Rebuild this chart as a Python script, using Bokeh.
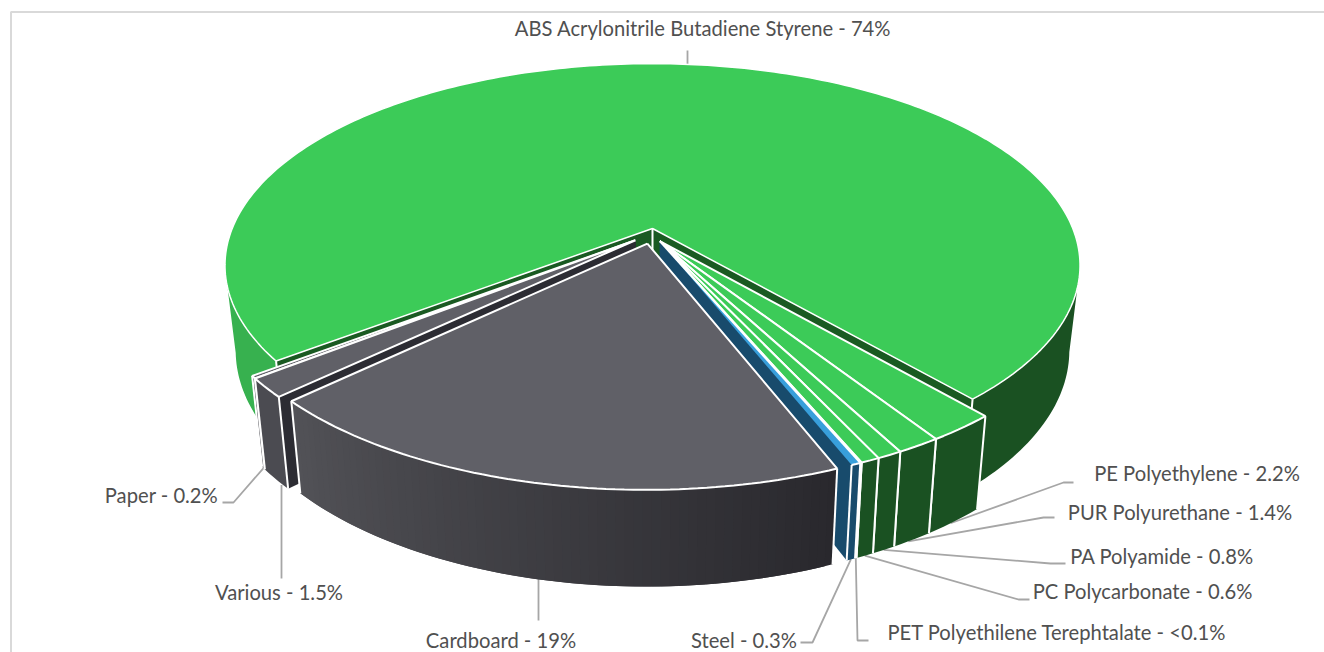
from bokeh.plotting import figure
from bokeh.models import Range1d
from bokeh.core.properties import value
from bokeh.embed import file_html
from bokeh.resources import INLINE
import math

# ---- chart data (clockwise from the first slice) ----
names = ["ABS Acrylonitrile Butadiene Styrene", "PE Polyethylene", "PUR Polyurethane", "PA Polyamide",
         "PC Polycarbonate", "PET Polyethilene Terephtalate", "Steel", "Cardboard", "Various", "Paper"]
shares = [73.9, 2.2, 1.4, 0.8, 0.6, 0.05, 0.3, 19, 1.5, 0.2]
shown = ["74%", "2.2%", "1.4%", "0.8%", "0.6%", "<0.1%", "0.3%", "19%", "1.5%", "0.2%"]

# ---- style / layout ----
first_angle = 232.8
explode = [0, .066, .066, .066, .066, .066, .066, .077, .072, .072]
explode_dir = [0, 165, 165, 165, 165, 165, 165, 189, 214, 214]
top_col = ["#3ccb58"] * 6 + ["#389fdb", "#606067", "#606067", "#606067"]
wall_col = ["#1a5122"] * 6 + ["#184b6c", "#2a292e", "#4b4b51", "#4b4b51"]
side_col = ["#1a5a22"] * 6 + ["#184b6c", "#2a292e", "#2c2c33", "#2c2c33"]
INK = "#505050"
LEAD = "#a6a6a6"
CX, CY, K, H, P, D, F = 652, 228, 420.3, 195, .183, 83, .975


def proj(s, c, z=0):
    w = 1 + P * c
    f = 1 - (1 - F) * z
    return CX + K * s / w * f, CY - H * c / w * f + z * D / w


def mix(a, b, t):
    ca = [int(a[i:i + 2], 16) for i in (1, 3, 5)]
    cb = [int(b[i:i + 2], 16) for i in (1, 3, 5)]
    return "#%02x%02x%02x" % tuple(round(u + (v - u) * t) for u, v in zip(ca, cb))


total = sum(shares)
starts, a = [], first_angle
for v in shares:
    starts.append(a % 360)
    a += v / total * 360

p = figure(width=1324, height=652, x_range=Range1d(0, 1324), y_range=Range1d(652, 0),
           output_backend="svg", toolbar_location=None, min_border=0)
p.axis.visible = False
p.grid.visible = False
p.outline_line_color = None
p.background_fill_color = "#ffffff"
p.border_fill_color = "#ffffff"

# chart frame
p.line([10.5, 10.5, 1324], [652, 11.5, 11.5], line_color="#d9d9d9", line_width=2)


def rim_of(i):
    a0 = starts[i]
    a1 = a0 + shares[i] / total * 360
    d = math.radians(explode_dir[i])
    ox, oy = explode[i] * math.sin(d), explode[i] * math.cos(d)
    n = max(2, int((a1 - a0) / 1.0))
    ang = [a0 + (a1 - a0) * k / n for k in range(n + 1)]
    return (ox, oy), ang, [(ox + math.sin(math.radians(t)), oy + math.cos(math.radians(t))) for t in ang]


def fill(poly, col):
    p.patch([q[0] for q in poly], [q[1] for q in poly], fill_color=col, line_color=None)


def white(poly, width, alpha=1.0):
    p.line([q[0] for q in poly], [q[1] for q in poly], line_color="#ffffff", line_width=width, line_alpha=alpha)


def draw_slice(i):
    apex, ang, pts = rim_of(i)
    # radial walls
    for e in (pts[0], pts[-1]):
        fill([proj(*apex), proj(*e), proj(*e, 1), proj(*apex, 1)], side_col[i])
    # outer wall
    if i == 7:
        # shaded strip by strip; each strip overlaps the next one
        for k in range(len(pts) - 1):
            t = (ang[k] % 360 - 158) / 68
            nxt = min(k + 2, len(pts) - 1)
            fill([proj(*pts[k]), proj(*pts[nxt]), proj(*pts[nxt], 1), proj(*pts[k], 1)],
                 mix("#29282d", "#525257", max(0, min(1, t))))
    elif i == 0:
        # visible runs reach from the slice's ends to the silhouette's tangent points
        lit = [q for q, t in zip(pts, ang) if 180 < t % 360 < 259.5]
        dark = [q for q, t in zip(pts, ang) if 100.5 < t % 360 < 180]
        for run, col in ((lit, "#37b14f"), (dark, "#1a5122")):
            fill([proj(*q) for q in run] + [proj(*q, 1) for q in reversed(run)], col)
    else:
        fill([proj(*q) for q in pts] + [proj(*q, 1) for q in reversed(pts)], wall_col[i])
    # vertical edges
    for e in (pts[0], pts[-1]):
        white([proj(*e), proj(*e, 1)], 2)
    if i == 0:
        white([proj(*apex), proj(*apex, 1)], 2)
    # top
    rim = [proj(*q) for q in pts]
    top = [proj(*apex)] + rim
    fill(top, top_col[i])
    if i == 6:
        white([proj(*apex)] + rim[:1], 2)
        white(rim, 2)
    elif i == 0:
        white(top + [top[0]], 1.5)
    else:
        white(top + [top[0]], 2)


# leaders: each starts on its slice's rim, at the layout x when one is given
def on_rim(i, x=None, z=1):
    _, _, pts = rim_of(i)
    if x is None:
        return proj(*pts[len(pts) // 2], z)
    front = [q for q in pts if (z == 0 and q[1] > 0) or (z == 1 and q[1] < 0)]
    return min((proj(*q, z) for q in front), key=lambda u: abs(u[0] - x))


lead_from = {0: on_rim(0, 687, 0), 1: on_rim(1), 2: on_rim(2), 3: on_rim(3), 4: on_rim(4), 5: on_rim(5),
             6: on_rim(6), 7: on_rim(7, 538), 8: on_rim(8, 281), 9: on_rim(9)}
bend = {0: [(687, 50)], 1: [(1063, 482), (1073, 482)], 2: [(1043, 517), (1054, 517)],
        3: [(1050, 563), (1065, 563)], 4: [(1018, 599), (1029, 599)], 5: [(857, 640), (868, 640)],
        6: [(812, 642), (800, 642)], 7: [(538, 620)], 8: [(281, 578)], 9: [(233, 502), (222, 502)]}
for i, tail in bend.items():
    xs = [lead_from[i][0] if i not in (0, 7, 8) else tail[0][0]] + [q[0] for q in tail]
    ys = [lead_from[i][1]] + [q[1] for q in tail]
    p.line(xs, ys, line_color=LEAD, line_width=1.8)

# painter's order: main slice first, then rear to front
for i in [0, 9, 8, 1, 2, 3, 4, 5, 6, 7]:
    draw_slice(i)

# labels
place = {0: (702.5, 27), 1: (1196.5, 472), 2: (1179.5, 511), 3: (1161.5, 555),
         4: (1142, 590), 5: (1056.5, 631), 6: (743.5, 639), 7: (500.5, 639),
         8: (278.5, 591), 9: (161, 494)}
for i, (x, y) in place.items():
    p.text([x], [y], text=[f"{names[i]} - {shown[i]}"], text_font=value("Lato"), text_font_size="20.2px",
           text_color=INK, text_align="center", text_baseline="middle")

open("out.html", "w").write(file_html(p, INLINE))
